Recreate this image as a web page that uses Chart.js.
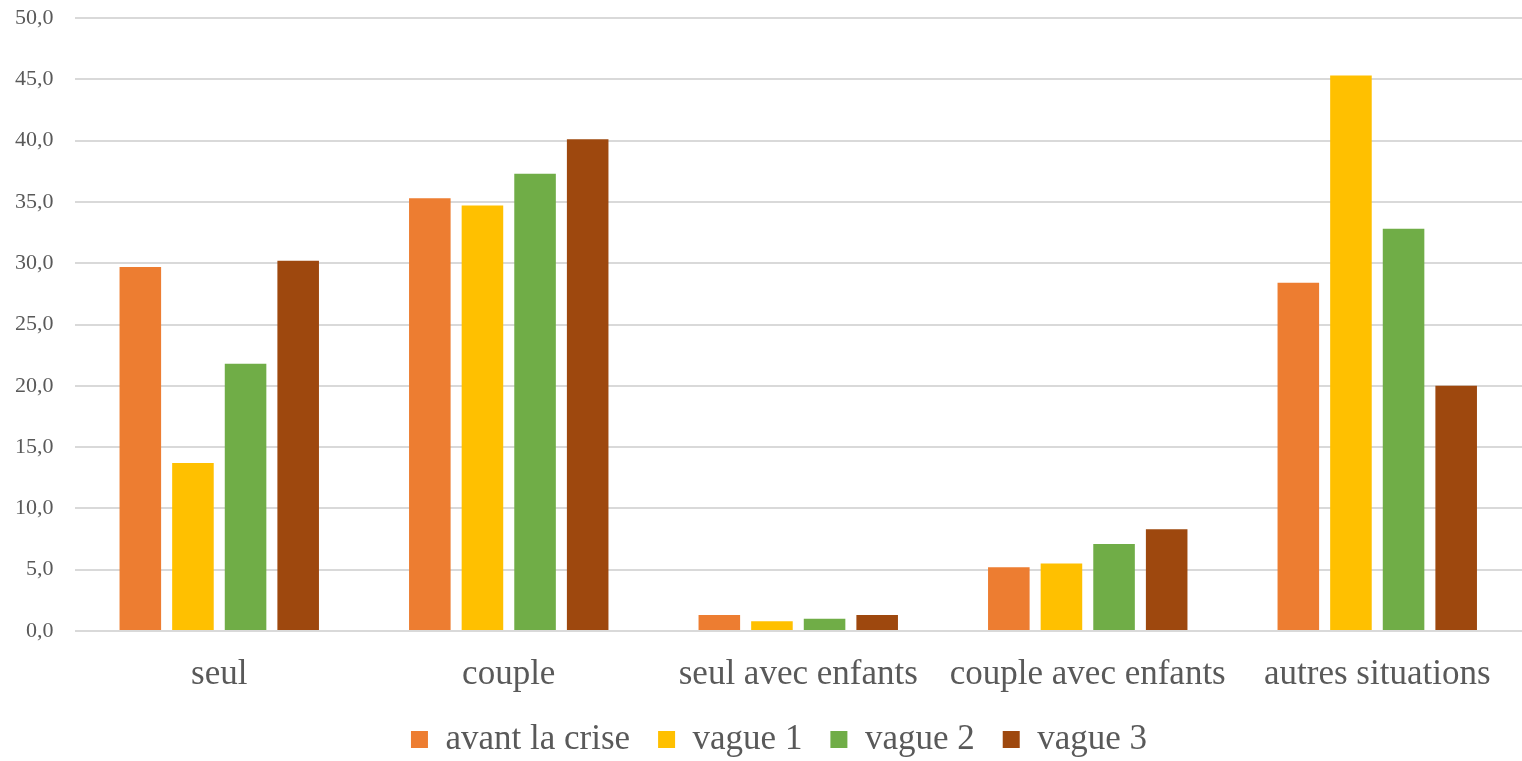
<!DOCTYPE html>
<html>
<head>
<meta charset="utf-8">
<script src="https://cdn.jsdelivr.net/npm/chart.js@4/dist/chart.umd.min.js"></script>
<style>
  body { margin: 0; background: #fff; }
</style>
</head>
<body>
<canvas id="myChart" width="1522" height="761"></canvas>
<script>
var categories = ["seul", "couple", "seul avec enfants", "couple avec enfants", "autres situations"];
var avantCrise = [29.7, 35.3, 1.3, 5.2, 28.4];
var vague1 = [13.7, 34.7, 0.8, 5.5, 45.3];
var vague2 = [21.8, 37.3, 1.0, 7.1, 32.8];
var vague3 = [30.2, 40.1, 1.3, 8.3, 20.0];

var font = "'Liberation Serif', 'DejaVu Serif', serif";
var grey = "#595959";

// the legend row sits a bit right of the canvas centre
var nudgeLegend = {
  id: "nudgeLegend",
  afterLayout: function (chart) {
    if (chart.legend) chart.legend.left += 42;
  },
};

var ctx = document.getElementById("myChart");
var myChart = new Chart(ctx, {
  type: "bar",
  data: {
    labels: categories,
    datasets: [
      { label: "avant la crise", data: avantCrise, backgroundColor: "#ED7D31" },
      { label: "vague 1", data: vague1, backgroundColor: "#FFC000" },
      { label: "vague 2", data: vague2, backgroundColor: "#70AD47" },
      { label: "vague 3", data: vague3, backgroundColor: "#9E480E" },
    ],
  },
  options: {
    responsive: false,
    animation: false,
    layout: { padding: { top: 0, left: -6, right: 0, bottom: -6 } },
    datasets: {
      bar: { categoryPercentage: 0.727, barPercentage: 0.79 },
    },
    scales: {
      x: {
        grid: { display: false, drawTicks: false },
        border: { display: false },
        ticks: { color: grey, font: { family: font, size: 35 }, padding: 23, maxRotation: 0 },
        // let the legend sit closer to the category labels
        afterFit: function (scale) { scale.height -= 25; },
      },
      y: {
        min: 0,
        max: 50,
        grid: { color: "#d9d9d9", lineWidth: 2, drawTicks: false },
        border: { display: false },
        ticks: {
          stepSize: 5,
          padding: 21,
          color: grey,
          font: { family: font, size: 22 },
          callback: function (v) { return v.toFixed(1).replace(".", ","); },
        },
        afterFit: function (scale) { scale.paddingTop = 18; },
      },
    },
    plugins: {
      tooltip: { enabled: false },
      legend: {
        position: "bottom",
        labels: {
          color: grey,
          font: { family: font, size: 35 },
          boxWidth: 17,
          boxHeight: 17,
          padding: 28,
        },
      },
    },
  },
  plugins: [nudgeLegend],
});
</script>
</body>
</html>
